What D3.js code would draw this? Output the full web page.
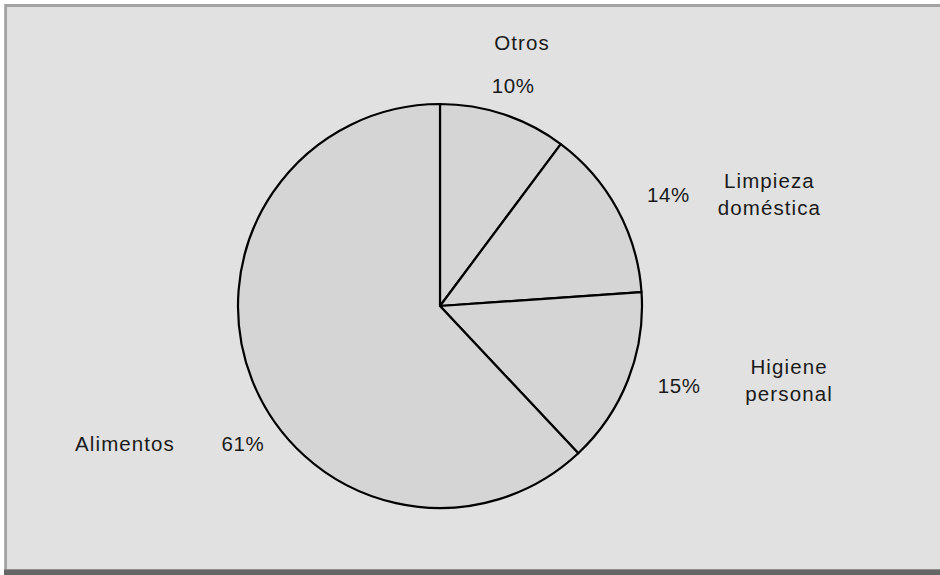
<!DOCTYPE html>
<html>
<head>
<meta charset="utf-8">
<script src="https://cdn.jsdelivr.net/npm/d3@7"></script>
<style>
  html, body { margin: 0; padding: 0; background: #ffffff; }
  svg { display: block; }
  text { font-family: "Liberation Sans", Arial, sans-serif; fill: #1a1a1a; }
</style>
</head>
<body>
<svg id="chart" width="940" height="575"></svg>
<script>
// ---- data ----
const categories = ["Otros", "Limpieza doméstica", "Higiene personal", "Alimentos"];
const values = [10.2, 13.7, 14.1, 62.0];
const percentLabels = ["10%", "14%", "15%", "61%"];
const nameLines = [["Otros"], ["Limpieza", "doméstica"], ["Higiene", "personal"], ["Alimentos"]];

// ---- layout ----
const W = 940, H = 575;
const cx = 440, cy = 306, R = 202;
const pctPlace = [
  { da: 0, r: 232 },
  { da: 2.7, r: 254 },
  { da: -3, r: 252 },
  { da: 0, r: 0 }
];
const namePlace = [
  { dx: 9, dy: -43 },
  { dx: 101, dy: 0 },
  { dx: 110, dy: -5 },
  { dx: -118, dy: 0 }
];

const svg = d3.select("#chart");

// frame
svg.append("rect").attr("x", 4).attr("y", 4).attr("width", W - 4).attr("height", H - 4).attr("fill", "#a3a3a3");
svg.append("rect").attr("x", 4).attr("y", 4).attr("width", 1).attr("height", H - 4).attr("fill", "#b5b5b5");
svg.append("rect").attr("x", 7).attr("y", 7).attr("width", W - 7).attr("height", 562).attr("fill", "#e1e1e1");
svg.append("rect").attr("x", 4).attr("y", 569).attr("width", W - 4).attr("height", 1).attr("fill", "#8c8c8c");
svg.append("rect").attr("x", 4).attr("y", 570).attr("width", W - 4).attr("height", 5).attr("fill", "#666666");

// pie
const pie = d3.pie().sort(null).value(d => d)(values);
const arc = d3.arc().innerRadius(0).outerRadius(R);
const g = svg.append("g").attr("transform", `translate(${cx},${cy})`);
g.selectAll("path.slice")
  .data(pie)
  .join("path")
  .attr("class", "slice")
  .attr("d", arc)
  .attr("fill", "#d5d5d5")
  .attr("stroke", "#000")
  .attr("stroke-width", 2.2)
  .attr("stroke-linejoin", "round");

// labels
const fs = 20.5;
pie.forEach((d, i) => {
  let px, py;
  if (i === 3) {
    px = -197; py = 138;
  } else {
    const a = (d.startAngle + d.endAngle) / 2 + pctPlace[i].da * Math.PI / 180;
    px = Math.sin(a) * pctPlace[i].r;
    py = -Math.cos(a) * pctPlace[i].r;
  }
  g.append("text")
    .attr("x", px).attr("y", py + 7)
    .attr("text-anchor", "middle")
    .attr("font-size", fs)
    .attr("letter-spacing", 0.6)
    .text(percentLabels[i]);

  const lines = nameLines[i];
  const lh = 27;
  const nx = px + namePlace[i].dx;
  const ny0 = py + namePlace[i].dy - (lines.length - 1) * lh / 2;
  const t = g.append("text")
    .attr("text-anchor", "middle")
    .attr("font-size", fs)
    .attr("letter-spacing", 1.1);
  lines.forEach((ln, j) => {
    t.append("tspan").attr("x", nx).attr("y", ny0 + j * lh + 7).text(ln);
  });
});
</script>
</body>
</html>
